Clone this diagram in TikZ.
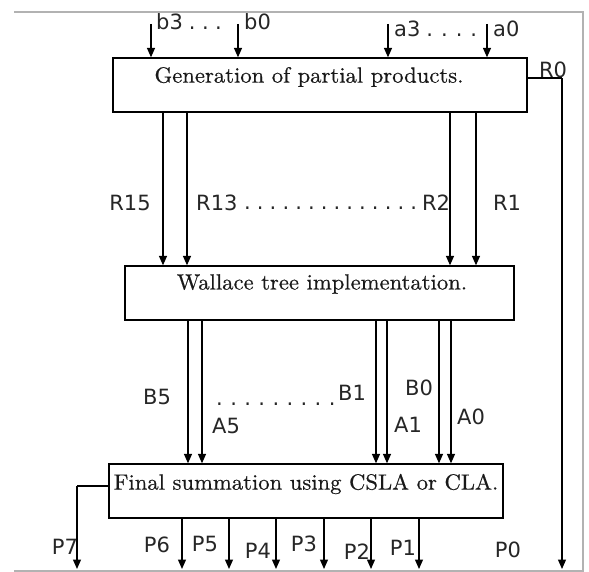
\documentclass[tikz,border=0pt]{standalone}
\usepackage{fontspec}
\newfontfamily\lblfont{DejaVu Sans}
\newfontfamily\boxfont[FakeStretch=1.03, FakeBold=0.5]{lmroman10-regular.otf}
\usetikzlibrary{arrows.meta}
\newcommand\dotrow[2]{\foreach \i in {1,...,#1}{.\hspace{#2}}}
\tikzset{
  blk/.style={draw=black, line width=1.3pt, rectangle, inner sep=0pt},
  boxtext/.style={font=\boxfont\fontsize{22}{24}\selectfont, text=black!90, inner sep=0pt},
  lbl/.style={font=\lblfont\fontsize{21}{23}\selectfont, text=black!85, inner sep=0pt},
  arr/.style={line width=1.3pt, -{Triangle[width=8pt,length=9.5pt]}},
  wire/.style={line width=1.3pt},
  frame/.style={draw=black!30, line width=1.2pt}
}
\begin{document}
\begin{tikzpicture}[x=1pt,y=-1pt]
\useasboundingbox (0,0) rectangle (589,572);
% frame
\draw[frame] (14,12) -- (583,12) -- (583,571) -- (14,571);
% boxes
\node[blk, minimum width=414pt, minimum height=54pt] (b1) at (320,85) {};
\node[blk, minimum width=389pt, minimum height=54pt] (b2) at (319.5,293) {};
\node[blk, minimum width=394pt, minimum height=54pt] (b3) at (306,491) {};
\node[boxtext] (t1) at (309,77) {Generation of partial products.};
\node[boxtext] (t2) at (322,284) {Wallace tree implementation.};
\node[boxtext] (t3) at (306,484) {Final summation using CSLA or CLA.};
% inputs
\coordinate (ib3) at (151,24);
\coordinate (ib0) at (238,24);
\coordinate (ia3) at (388,24);
\coordinate (ia0) at (487,24);
\foreach \c in {ib3,ib0,ia3,ia0} \draw[arr] (\c) -- (\c |- b1.north);
\node[lbl, anchor=west] (lb3) at (156,22) {b3\hspace{6pt}\dotrow{3}{6.5pt}};
\node[lbl, anchor=west] (lb0) at (244,22) {b0};
\node[lbl, anchor=west] (la3) at (394,29) {a3\hspace{6pt}\dotrow{4}{8pt}};
\node[lbl, anchor=west] (la0) at (493,29) {a0};
% R0
\coordinate (r0c) at (562,78);
\coordinate (p0e) at (562,569);
\draw[wire] (b1.east |- r0c) -- (r0c);
\draw[arr] (r0c) -- (p0e);
\node[lbl] (lr0) at (553,70) {R0};
% R arrows
\coordinate (r15) at (163,200);
\coordinate (r13) at (187,200);
\coordinate (r2) at (450,200);
\coordinate (r1) at (476,200);
\foreach \c in {r15,r13,r2,r1} \draw[arr] (\c |- b1.south) -- (\c |- b2.north);
\node[lbl] (lr15) at (130,203) {R15};
\node[lbl, anchor=west] (lr13) at (196,203) {R13};
\node[lbl, anchor=base west] (lrd) at (244,210) {\dotrow{14}{6.1pt}};
\node[lbl] (lr2) at (436,203) {R2};
\node[lbl] (lr1) at (507,203) {R1};
% B/A arrows
\coordinate (cb5) at (188,390);
\coordinate (ca5) at (202,390);
\coordinate (cb1) at (376,390);
\coordinate (ca1) at (387,390);
\coordinate (cb0) at (439,390);
\coordinate (ca0) at (451,390);
\foreach \c in {cb5,ca5,cb1,ca1,cb0,ca0} \draw[arr] (\c |- b2.south) -- (\c |- b3.north);
\node[lbl] (lb5) at (157,397) {B5};
\node[lbl] (la5) at (226,426) {A5};
\node[lbl, anchor=base west] (lbd) at (216,405) {\dotrow{9}{7.4pt}};
\node[lbl] (lb1) at (352,393) {B1};
\node[lbl] (la1) at (408,425) {A1};
\node[lbl] (lb0b) at (419,388) {B0};
\node[lbl] (la0b) at (471,417) {A0};
% outputs
\coordinate (p7c) at (77,486);
\coordinate (p7e) at (77,569);
\draw[wire] (b3.west |- p7c) -- (p7c);
\draw[arr] (p7c) -- (p7e);
\coordinate (p6) at (182,569);
\coordinate (p5) at (229,569);
\coordinate (p4) at (276,569);
\coordinate (p3) at (324,569);
\coordinate (p2) at (371,569);
\coordinate (p1) at (419,569);
\foreach \c in {p6,p5,p4,p3,p2,p1} \draw[arr] (\c |- b3.south) -- (\c);
\node[lbl] (lp7) at (65,547) {P7};
\node[lbl] (lp6) at (157,545) {P6};
\node[lbl] (lp5) at (205,544) {P5};
\node[lbl] (lp4) at (258,551) {P4};
\node[lbl] (lp3) at (304,544) {P3};
\node[lbl] (lp2) at (357,552) {P2};
\node[lbl] (lp1) at (403,548) {P1};
\node[lbl] (lp0) at (508,550) {P0};
\end{tikzpicture}
\end{document}
